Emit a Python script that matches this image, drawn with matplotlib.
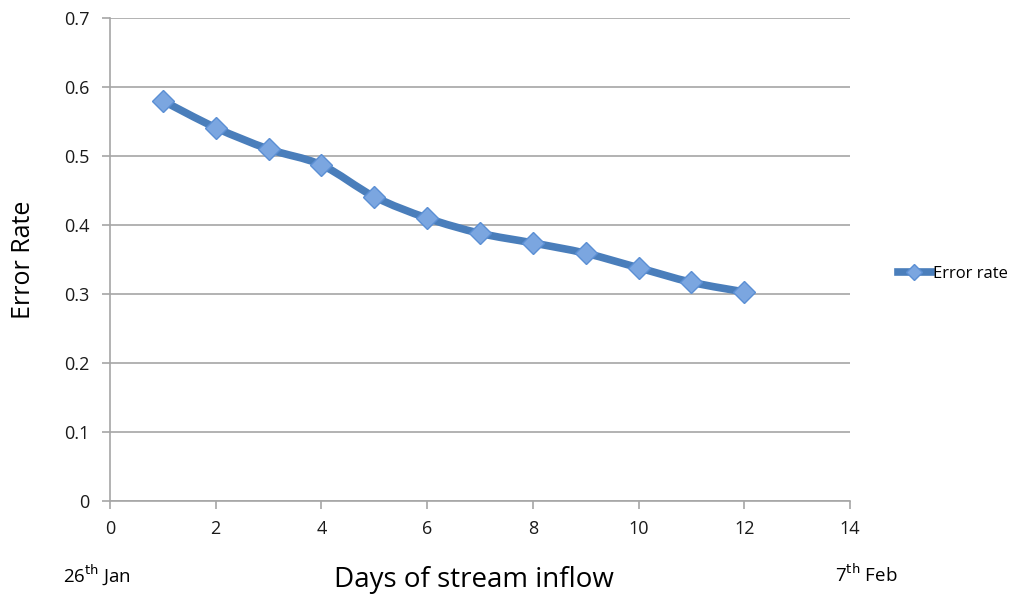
import matplotlib
matplotlib.use("Agg")
import matplotlib.pyplot as plt
from matplotlib.path import Path
from matplotlib.patches import PathPatch
from matplotlib.lines import Line2D
import numpy as np

plt.rcParams['font.family'] = ['Open Sans', 'DejaVu Sans']

days = [1, 2, 3, 4, 5, 6, 7, 8, 9, 10, 11, 12]
error_rate = [0.580, 0.541, 0.510, 0.487, 0.441, 0.410, 0.388, 0.374, 0.359, 0.338, 0.317, 0.303]
series_name = 'Error rate'
start_label = '26$^{\\mathrm{th}}$ Jan'
end_label = '7$^{\\mathrm{th}}$ Feb'

line_color = '#4a7ebb'
marker_face = '#7ba6e0'
grid_color = '#a6a6a6'

fig = plt.figure(figsize=(10.19, 5.95), dpi=100)
ax = fig.add_axes([110 / 1019, 1 - 501 / 595, 740 / 1019, 483 / 595])

ax.set_xlim(0, 14)
ax.set_ylim(0, 0.7)
ax.set_xticks(np.arange(0, 15, 2))
ax.set_yticks(np.arange(0, 0.71, 0.1))
ax.set_yticklabels(['0'] + ['%.1f' % v for v in np.arange(0.1, 0.71, 0.1)])

ax.yaxis.grid(True, color=grid_color, linewidth=1.2)
ax.set_axisbelow(True)
for side in ('top', 'right'):
    ax.spines[side].set_visible(False)
for side in ('left', 'bottom'):
    ax.spines[side].set_color(grid_color)
    ax.spines[side].set_linewidth(1.2)
ax.tick_params(axis='both', colors=grid_color, length=6, width=1.2,
               labelcolor='#1a1a1a', labelsize=13)
ax.tick_params(axis='x', pad=8)
ax.tick_params(axis='y', pad=9)

# smoothed line through the points (Catmull-Rom as cubic Bezier segments)
pts = np.column_stack([days, error_rate])
verts = [tuple(pts[0])]
codes = [Path.MOVETO]
n = len(pts)
for i in range(n - 1):
    p0 = pts[max(i - 1, 0)]
    p1 = pts[i]
    p2 = pts[i + 1]
    p3 = pts[min(i + 2, n - 1)]
    c1 = p1 + (p2 - p0) / 6
    c2 = p2 - (p3 - p1) / 6
    verts += [tuple(c1), tuple(c2), tuple(p2)]
    codes += [Path.CURVE4] * 3
ax.add_patch(PathPatch(Path(verts, codes), facecolor='none', edgecolor=line_color,
                       linewidth=5.5, capstyle='round', joinstyle='round', zorder=3))

ax.plot(days, error_rate, linestyle='none', marker='D', markersize=11,
        markerfacecolor=marker_face, markeredgecolor='#5b8fd4', markeredgewidth=1,
        zorder=4)

ax.set_ylabel('Error Rate', fontsize=18, labelpad=20)
fig.text(474 / 1019, 1 - 580 / 595, 'Days of stream inflow', fontsize=20,
         ha='center', va='center')
fig.text(63 / 1019, 1 - 575 / 595, start_label, fontsize=13.5, ha='left', va='center')
fig.text(835 / 1019, 1 - 575 / 595, end_label, fontsize=13.5, ha='left', va='center')

handle = Line2D([], [], color=line_color, linewidth=5.5, marker='D', markersize=8,
                markerfacecolor=marker_face, markeredgecolor='#5b8fd4')
fig.legend([handle], [series_name], loc='center left',
           bbox_to_anchor=(891 / 1019, 1 - 274 / 595), frameon=False,
           fontsize=12, handlelength=2.0, handletextpad=0.1, borderaxespad=0)

fig.savefig('out.png', dpi=100)
